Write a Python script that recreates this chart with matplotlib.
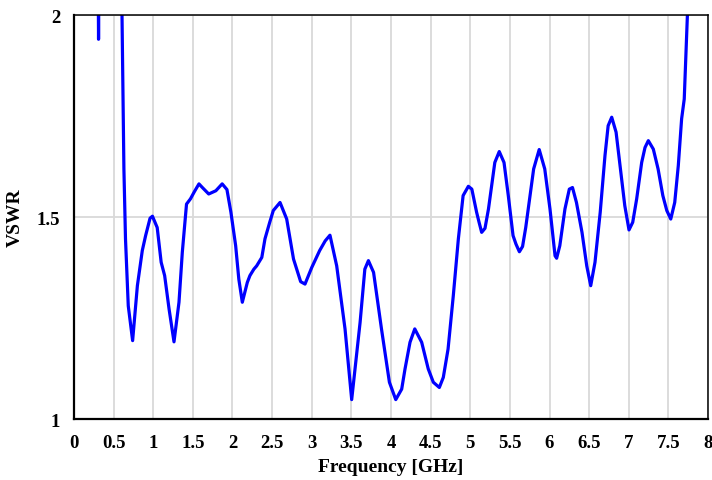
import numpy as np
import matplotlib
matplotlib.use("Agg")
import matplotlib.pyplot as plt

# VSWR (values above 2 are clipped by the axis)
freq_ghz = [0.29, 0.305, 0.31, 0.315, 0.33, 0.58, 0.606, 0.63, 0.65, 0.685, 0.74,
            0.80, 0.862, 0.904, 0.96, 0.99, 1.05, 1.10, 1.144, 1.20, 1.262,
            1.325, 1.367, 1.42, 1.47, 1.52, 1.577, 1.62, 1.70, 1.79, 1.87, 1.93,
            1.98, 2.04, 2.08, 2.124, 2.187, 2.22, 2.27, 2.305, 2.37, 2.41, 2.47,
            2.515, 2.60, 2.684, 2.77, 2.86, 2.915, 3.0, 3.10, 3.17, 3.23, 3.315,
            3.42, 3.504, 3.61, 3.67, 3.715, 3.78, 3.88, 3.98, 4.06, 4.135, 4.177,
            4.24, 4.30, 4.387, 4.47, 4.534, 4.61, 4.66, 4.72, 4.786, 4.85, 4.91,
            4.976, 5.02, 5.08, 5.11, 5.144, 5.186, 5.23, 5.27, 5.31, 5.366, 5.426,
            5.48, 5.54, 5.577, 5.62, 5.66, 5.70, 5.754, 5.80, 5.87, 5.94, 6.006,
            6.07, 6.09, 6.13, 6.195, 6.25, 6.29, 6.34, 6.41, 6.47, 6.52, 6.574,
            6.64, 6.70, 6.74, 6.785, 6.84, 6.89, 6.95, 7.003, 7.05, 7.10, 7.163,
            7.205, 7.247, 7.31, 7.37, 7.43, 7.48, 7.53, 7.58, 7.625, 7.667, 7.70,
            7.74, 7.76]
vswr = [2.6, 2.1, 1.94, 2.1, 2.6, 2.6, 2.0, 1.619, 1.446, 1.28, 1.194,
        1.33, 1.417, 1.454, 1.497, 1.502, 1.474, 1.388, 1.355, 1.272, 1.191,
        1.289, 1.413, 1.532, 1.545, 1.563, 1.582, 1.573, 1.557, 1.565, 1.582, 1.568,
        1.512, 1.429, 1.346, 1.289, 1.338, 1.355, 1.371, 1.379, 1.40, 1.446, 1.487,
        1.516, 1.536, 1.495, 1.396, 1.34, 1.334, 1.375, 1.417, 1.441, 1.455, 1.379,
        1.223, 1.048, 1.239, 1.371, 1.392, 1.363, 1.223, 1.091, 1.048, 1.074, 1.124,
        1.19, 1.223, 1.19, 1.124, 1.091, 1.078, 1.103, 1.173, 1.305, 1.446, 1.553,
        1.576, 1.569, 1.512, 1.488, 1.462, 1.472, 1.52, 1.577, 1.635, 1.662, 1.635,
        1.553, 1.454, 1.433, 1.414, 1.427, 1.474, 1.553, 1.619, 1.667, 1.619, 1.52,
        1.404, 1.398, 1.429, 1.52, 1.569, 1.573, 1.536, 1.462, 1.379, 1.33, 1.388,
        1.512, 1.652, 1.726, 1.747, 1.71, 1.627, 1.528, 1.468, 1.487, 1.545, 1.635,
        1.672, 1.689, 1.668, 1.619, 1.553, 1.516, 1.495, 1.536, 1.627, 1.743, 1.792,
        2.0, 2.08]

x_ticks = np.arange(0, 8.01, 0.5)
y_ticks = [1, 1.5, 2]

plt.rcParams['font.family'] = ['Liberation Serif', 'DejaVu Serif']
plt.rcParams['font.weight'] = 'bold'

fig = plt.figure(figsize=(7.12, 4.81), dpi=100)
ax = fig.add_axes([0.1039, 0.1268, 0.8905, 0.8399])

ax.plot(freq_ghz, vswr, color='#0000ff', lw=2.3,
        solid_joinstyle='round', solid_capstyle='round')

ax.set_xlim(0, 8)
ax.set_ylim(1, 2)
ax.set_xticks(x_ticks)
ax.set_xticklabels(['%g' % t for t in x_ticks])
ax.set_yticks(y_ticks)
ax.set_yticklabels(['%g' % t for t in y_ticks])
ax.tick_params(length=0, labelsize=13.5)
ax.tick_params(axis='x', pad=11)
ax.tick_params(axis='y', pad=10)
for lab in ax.get_xticklabels() + ax.get_yticklabels():
    lab.set_fontweight('bold')

ax.grid(True, color='#d9d9d9', lw=1.3)
ax.set_axisbelow(True)
for side in ['left', 'bottom']:
    ax.spines[side].set_linewidth(1.6)
for side in ['top', 'right']:
    ax.spines[side].set_linewidth(1.1)

ax.set_xlabel('Frequency [GHz]', fontsize=14, fontweight='bold', labelpad=5)
ax.set_ylabel('VSWR', fontsize=14, fontweight='bold', labelpad=9)

fig.savefig('out.png', dpi=100)
